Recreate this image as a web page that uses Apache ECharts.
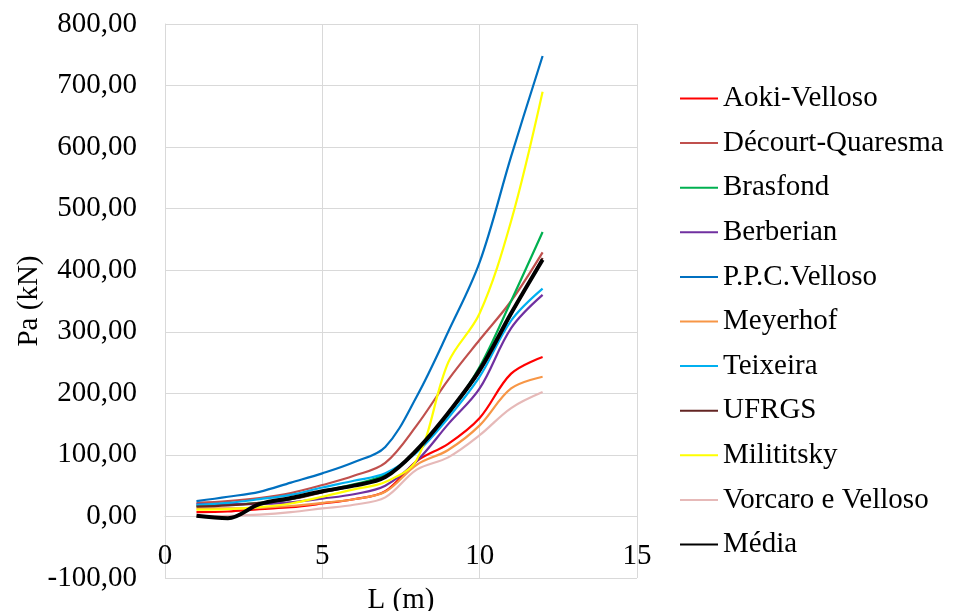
<!DOCTYPE html>
<html>
<head>
<meta charset="utf-8">
<script src="https://cdn.jsdelivr.net/npm/echarts@6/dist/echarts.min.js"></script>
<style>
  html, body { margin: 0; padding: 0; background: #ffffff; }
  #chart { width: 954px; height: 611px; }
</style>
</head>
<body>
<div id="chart"></div>
<script>
// Pile length (m)
const lengths = [1, 2, 3, 4, 5, 6, 7, 8, 9, 10, 11, 12];

// Allowable load Pa (kN) by method
const aokiVelloso      = [7, 8, 12, 15, 21, 28, 41, 90, 118, 160, 232, 259];
const decourtQuaresma  = [22, 25, 30, 38, 51, 66, 87, 148, 222, 287, 350, 429];
const brasfond         = [17, 19, 22, 28, 41, 52, 68, 106, 166, 243, 350, 462];
const berberian        = [20, 20, 20, 23, 29, 36, 50, 90, 150, 208, 306, 360];
const ppcVelloso       = [25, 32, 40, 55, 70, 88, 113, 195, 300, 413, 585, 748];
const meyerhof         = [13, 13, 14, 17, 22, 28, 40, 84, 108, 148, 208, 227];
const teixeira         = [19, 22, 28, 35, 47, 58, 70, 104, 160, 227, 318, 370];
const ufrgs            = [16, 18, 22, 28, 39, 50, 65, 106, 168, 235, 328, 420];
const milititsky       = [11, 12, 15, 21, 32, 44, 56, 92, 250, 330, 480, 690];
const vorcaroVelloso   = [0, 1, 3, 7, 13, 19, 31, 76, 96, 132, 176, 202];
const media            = [1, -3, 20, 30, 41, 50, 64, 108, 168, 238, 330, 417];

const seriesNames = [
  'Aoki-Velloso', 'Décourt-Quaresma', 'Brasfond', 'Berberian', 'P.P.C.Velloso',
  'Meyerhof', 'Teixeira', 'UFRGS', 'Milititsky', 'Vorcaro e Velloso', 'Média'
];
const seriesValues = [
  aokiVelloso, decourtQuaresma, brasfond, berberian, ppcVelloso,
  meyerhof, teixeira, ufrgs, milititsky, vorcaroVelloso, media
];
const seriesColors = [
  '#ff0000', '#c0504d', '#00b050', '#7030a0', '#0070c0',
  '#f79646', '#00b0f0', '#632523', '#ffff00', '#e6b9b8', '#000000'
];

const xTicks = [0, 5, 10, 15];
const yTicks = [-100, 0, 100, 200, 300, 400, 500, 600, 700, 800];

const FONT = '"Liberation Serif", "Times New Roman", serif';
const FONT_SIZE = 29;
const GRID_COLOR = '#d9d9d9';

const GRID_TOP = 24;
const GRID_BOTTOM = 33;
const PLOT_HEIGHT = 611 - GRID_TOP - GRID_BOTTOM;
const yMin = yTicks[0];
const yMax = yTicks[yTicks.length - 1];
// the horizontal axis crosses the vertical one at zero
const zeroLift = PLOT_HEIGHT * (0 - yMin) / (yMax - yMin);

const chart = echarts.init(document.getElementById('chart'), null, { renderer: 'canvas' });

const series = seriesNames.map((name, i) => ({
  name,
  type: 'line',
  smooth: 0.35,
  symbol: 'none',
  showSymbol: false,
  data: lengths.map((l, k) => [l, seriesValues[i][k]]),
  lineStyle: { color: seriesColors[i], width: name === 'Média' ? 4 : 2.2 },
  itemStyle: { color: seriesColors[i] },
  z: name === 'Média' ? 5 : 2
}));

chart.setOption({
  animation: false,
  backgroundColor: '#ffffff',
  grid: {
    left: 165, right: 317, top: GRID_TOP, bottom: GRID_BOTTOM,
    containLabel: false,
    outerBoundsMode: 'none'
  },
  xAxis: {
    type: 'value',
    position: 'bottom',
    offset: -zeroLift,
    min: xTicks[0],
    max: xTicks[xTicks.length - 1],
    interval: xTicks[1] - xTicks[0],
    name: 'L (m)',
    nameLocation: 'middle',
    nameGap: 69,
    nameTextStyle: { fontFamily: FONT, fontSize: FONT_SIZE, color: '#000' },
    axisLine: { onZero: false, lineStyle: { color: GRID_COLOR, width: 1 } },
    axisTick: { show: false },
    axisLabel: { fontFamily: FONT, fontSize: FONT_SIZE, color: '#000', margin: 25 },
    splitLine: { show: true, lineStyle: { color: GRID_COLOR, width: 1 } }
  },
  yAxis: {
    type: 'value',
    min: yMin,
    max: yMax,
    interval: yTicks[1] - yTicks[0],
    name: 'Pa (kN)',
    nameLocation: 'middle',
    nameGap: 116,
    nameTextStyle: { fontFamily: FONT, fontSize: FONT_SIZE, color: '#000' },
    axisLine: { show: true, onZero: false, lineStyle: { color: GRID_COLOR, width: 1 } },
    axisTick: { show: false },
    axisLabel: {
      fontFamily: FONT, fontSize: FONT_SIZE, color: '#000', margin: 28,
      formatter: v => v.toFixed(2).replace('.', ',')
    },
    splitLine: { show: true, lineStyle: { color: GRID_COLOR, width: 1 } }
  },
  legend: {
    orient: 'vertical',
    left: 679,
    top: 83,
    padding: 0,
    itemWidth: 38,
    itemHeight: 14,
    itemGap: 13.6,
    itemStyle: { opacity: 0 },
    data: seriesNames,
    textStyle: { fontFamily: FONT, fontSize: FONT_SIZE, color: '#000', lineHeight: 31 }
  },
  series
});
</script>
</body>
</html>
